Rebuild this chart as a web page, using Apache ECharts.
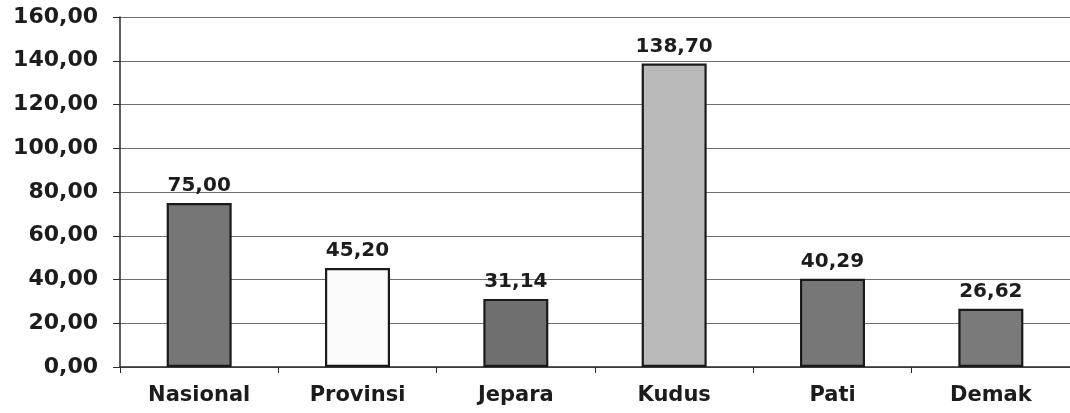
<!DOCTYPE html>
<html>
<head>
<meta charset="utf-8">
<script src="https://cdn.jsdelivr.net/npm/echarts@6/dist/echarts.min.js"></script>
<style>
html,body{margin:0;padding:0;background:#fff;}
#chart{width:1070px;height:413px;}
</style>
</head>
<body>
<div id="chart"></div>
<script>
const categories = ['Nasional', 'Provinsi', 'Jepara', 'Kudus', 'Pati', 'Demak'];
const values = [75.00, 45.20, 31.14, 138.70, 40.29, 26.62];
const yTicks = { min: 0, max: 160, interval: 20 };

const barColors = ['#767676', '#fbfbfb', '#6f6f6f', '#b9b9b9', '#777777', '#7a7a7a'];
const fmt = v => Number(v).toFixed(2).replace('.', ',');
const font = '"DejaVu Sans", Verdana, sans-serif';

const chart = echarts.init(document.getElementById('chart'));
chart.setOption({
  animation: false,
  backgroundColor: '#ffffff',
  grid: { left: 120, top: 17, bottom: 46, right: -12, containLabel: false },
  xAxis: {
    type: 'category',
    data: categories,
    axisLine: { lineStyle: { color: '#2a2a2a', width: 1.5 } },
    axisTick: { show: true, length: 6, lineStyle: { color: '#2a2a2a' } },
    axisLabel: { color: '#1c1c1c', fontFamily: font, fontWeight: 'bold', fontSize: 21, margin: 18 }
  },
  yAxis: {
    type: 'value',
    min: yTicks.min, max: yTicks.max, interval: yTicks.interval,
    axisLine: { show: true, lineStyle: { color: '#2a2a2a', width: 1.5 } },
    axisTick: { show: true, length: 7, lineStyle: { color: '#2a2a2a' } },
    axisLabel: { color: '#1c1c1c', fontFamily: font, fontWeight: 'bold', fontSize: 22, margin: 22, formatter: fmt },
    splitLine: { lineStyle: { color: '#6e6e6e', width: 1 } }
  },
  series: [{
    type: 'bar',
    barWidth: 65,
    data: values.map((v, i) => ({ value: v, itemStyle: { color: barColors[i] } })),
    itemStyle: { borderColor: '#1a1a1a', borderWidth: 2.2 },
    label: {
      show: true, position: 'top', distance: 7,
      color: '#1c1c1c', fontFamily: font, fontWeight: 'bold', fontSize: 20,
      formatter: p => fmt(p.value)
    }
  }]
});
</script>
</body>
</html>
